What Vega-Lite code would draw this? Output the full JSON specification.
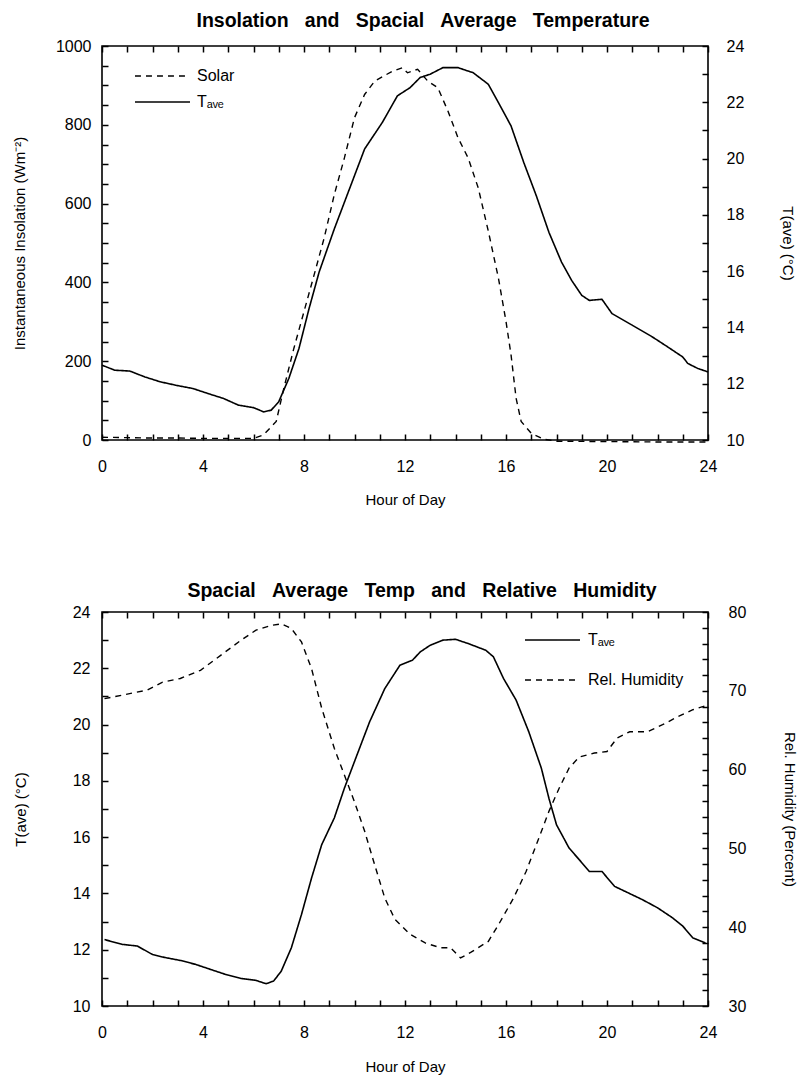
{
  "$schema": "https://vega.github.io/schema/vega-lite/v6.json",
  "background": "white",
  "padding": {"left": 11, "top": 9, "right": 2, "bottom": 1},
  "spacing": 71,
  "config": {
    "font": "Liberation Sans",
    "view": {"stroke": "black", "strokeWidth": 1.6},
    "axis": {
      "domain": false, "tickColor": "black", "tickWidth": 1.5, "ticks": true, "tickSize": 6, "offset": -6,
      "labelColor": "black", "titleColor": "black", "labelFont": "Liberation Sans", "labelFontSize": 16,
      "titleFont": "Liberation Sans", "titleFontSize": 15, "titleFontWeight": "normal", "grid": false
    },
    "title": {"font": "Liberation Sans", "fontSize": 19.5, "fontWeight": "bold", "color": "black", "offset": 7},
    "legend": {"labelFont": "Liberation Sans", "labelFontSize": 16, "labelColor": "black", "padding": 0, "rowPadding": 0, "symbolStrokeWidth": 1.4, "title": null}
  },
  "datasets": {
    "solar": [
      {"hour": 0, "value": 7, "series": "Solar"}, {"hour": 1, "value": 6, "series": "Solar"}, {"hour": 2, "value": 5, "series": "Solar"},
      {"hour": 3, "value": 5, "series": "Solar"}, {"hour": 4, "value": 4, "series": "Solar"}, {"hour": 5, "value": 4, "series": "Solar"},
      {"hour": 6, "value": 4, "series": "Solar"}, {"hour": 6.4, "value": 13, "series": "Solar"}, {"hour": 6.9, "value": 47, "series": "Solar"},
      {"hour": 7.2, "value": 131, "series": "Solar"}, {"hour": 7.6, "value": 233, "series": "Solar"}, {"hour": 8.0, "value": 326, "series": "Solar"},
      {"hour": 8.4, "value": 419, "series": "Solar"}, {"hour": 8.8, "value": 513, "series": "Solar"}, {"hour": 9.2, "value": 623, "series": "Solar"},
      {"hour": 9.6, "value": 716, "series": "Solar"}, {"hour": 10.0, "value": 818, "series": "Solar"}, {"hour": 10.4, "value": 877, "series": "Solar"},
      {"hour": 10.8, "value": 911, "series": "Solar"}, {"hour": 11.5, "value": 936, "series": "Solar"}, {"hour": 11.9, "value": 945, "series": "Solar"},
      {"hour": 12.1, "value": 932, "series": "Solar"}, {"hour": 12.5, "value": 941, "series": "Solar"}, {"hour": 12.9, "value": 911, "series": "Solar"},
      {"hour": 13.3, "value": 894, "series": "Solar"}, {"hour": 13.7, "value": 835, "series": "Solar"}, {"hour": 14.1, "value": 767, "series": "Solar"},
      {"hour": 14.5, "value": 716, "series": "Solar"}, {"hour": 14.9, "value": 640, "series": "Solar"}, {"hour": 15.3, "value": 530, "series": "Solar"},
      {"hour": 15.7, "value": 411, "series": "Solar"}, {"hour": 16.0, "value": 301, "series": "Solar"}, {"hour": 16.2, "value": 216, "series": "Solar"},
      {"hour": 16.4, "value": 106, "series": "Solar"}, {"hour": 16.6, "value": 47, "series": "Solar"}, {"hour": 17.0, "value": 17, "series": "Solar"},
      {"hour": 17.5, "value": 2, "series": "Solar"}, {"hour": 18, "value": -3, "series": "Solar"}, {"hour": 20, "value": -4, "series": "Solar"},
      {"hour": 22, "value": -5, "series": "Solar"}, {"hour": 24, "value": -5, "series": "Solar"}
    ],
    "tave1": [
      {"hour": 0, "value": 12.66, "series": "T_ave"}, {"hour": 0.5, "value": 12.48, "series": "T_ave"}, {"hour": 1.1, "value": 12.45, "series": "T_ave"},
      {"hour": 1.7, "value": 12.24, "series": "T_ave"}, {"hour": 2.3, "value": 12.07, "series": "T_ave"}, {"hour": 2.9, "value": 11.95, "series": "T_ave"},
      {"hour": 3.6, "value": 11.83, "series": "T_ave"}, {"hour": 4.2, "value": 11.65, "series": "T_ave"}, {"hour": 4.8, "value": 11.48, "series": "T_ave"},
      {"hour": 5.4, "value": 11.24, "series": "T_ave"}, {"hour": 6.0, "value": 11.15, "series": "T_ave"}, {"hour": 6.4, "value": 11.0, "series": "T_ave"},
      {"hour": 6.7, "value": 11.06, "series": "T_ave"}, {"hour": 7.0, "value": 11.36, "series": "T_ave"}, {"hour": 7.4, "value": 12.19, "series": "T_ave"},
      {"hour": 7.8, "value": 13.25, "series": "T_ave"}, {"hour": 8.2, "value": 14.67, "series": "T_ave"}, {"hour": 8.6, "value": 15.97, "series": "T_ave"},
      {"hour": 9.2, "value": 17.5, "series": "T_ave"}, {"hour": 9.8, "value": 18.92, "series": "T_ave"}, {"hour": 10.4, "value": 20.34, "series": "T_ave"},
      {"hour": 11.1, "value": 21.28, "series": "T_ave"}, {"hour": 11.7, "value": 22.23, "series": "T_ave"}, {"hour": 12.2, "value": 22.52, "series": "T_ave"},
      {"hour": 12.6, "value": 22.88, "series": "T_ave"}, {"hour": 13.0, "value": 23.0, "series": "T_ave"}, {"hour": 13.5, "value": 23.23, "series": "T_ave"},
      {"hour": 14.1, "value": 23.23, "series": "T_ave"}, {"hour": 14.7, "value": 23.05, "series": "T_ave"}, {"hour": 15.3, "value": 22.64, "series": "T_ave"},
      {"hour": 15.7, "value": 21.99, "series": "T_ave"}, {"hour": 16.2, "value": 21.16, "series": "T_ave"}, {"hour": 16.7, "value": 19.87, "series": "T_ave"},
      {"hour": 17.2, "value": 18.68, "series": "T_ave"}, {"hour": 17.7, "value": 17.38, "series": "T_ave"}, {"hour": 18.2, "value": 16.32, "series": "T_ave"},
      {"hour": 18.6, "value": 15.67, "series": "T_ave"}, {"hour": 19.0, "value": 15.14, "series": "T_ave"}, {"hour": 19.3, "value": 14.96, "series": "T_ave"},
      {"hour": 19.8, "value": 15.0, "series": "T_ave"}, {"hour": 20.2, "value": 14.49, "series": "T_ave"}, {"hour": 21.0, "value": 14.08, "series": "T_ave"},
      {"hour": 21.8, "value": 13.66, "series": "T_ave"}, {"hour": 22.4, "value": 13.31, "series": "T_ave"}, {"hour": 23.0, "value": 12.95, "series": "T_ave"},
      {"hour": 23.2, "value": 12.72, "series": "T_ave"}, {"hour": 23.6, "value": 12.54, "series": "T_ave"}, {"hour": 24, "value": 12.42, "series": "T_ave"}
    ],
    "tave2": [
      {"hour": 0.1, "value": 12.36, "series": "T_ave"}, {"hour": 0.8, "value": 12.19, "series": "T_ave"}, {"hour": 1.4, "value": 12.13, "series": "T_ave"},
      {"hour": 2.0, "value": 11.83, "series": "T_ave"}, {"hour": 2.4, "value": 11.74, "series": "T_ave"}, {"hour": 3.1, "value": 11.62, "series": "T_ave"},
      {"hour": 3.7, "value": 11.48, "series": "T_ave"}, {"hour": 4.3, "value": 11.3, "series": "T_ave"}, {"hour": 4.9, "value": 11.12, "series": "T_ave"},
      {"hour": 5.5, "value": 10.98, "series": "T_ave"}, {"hour": 6.1, "value": 10.91, "series": "T_ave"}, {"hour": 6.5, "value": 10.79, "series": "T_ave"},
      {"hour": 6.8, "value": 10.89, "series": "T_ave"}, {"hour": 7.1, "value": 11.24, "series": "T_ave"}, {"hour": 7.5, "value": 12.07, "series": "T_ave"},
      {"hour": 7.9, "value": 13.25, "series": "T_ave"}, {"hour": 8.3, "value": 14.55, "series": "T_ave"}, {"hour": 8.7, "value": 15.73, "series": "T_ave"},
      {"hour": 9.2, "value": 16.68, "series": "T_ave"}, {"hour": 9.6, "value": 17.74, "series": "T_ave"}, {"hour": 10.2, "value": 19.16, "series": "T_ave"},
      {"hour": 10.6, "value": 20.1, "series": "T_ave"}, {"hour": 11.2, "value": 21.28, "series": "T_ave"}, {"hour": 11.8, "value": 22.11, "series": "T_ave"},
      {"hour": 12.3, "value": 22.29, "series": "T_ave"}, {"hour": 12.6, "value": 22.58, "series": "T_ave"}, {"hour": 13.0, "value": 22.82, "series": "T_ave"},
      {"hour": 13.5, "value": 23.0, "series": "T_ave"}, {"hour": 14.0, "value": 23.03, "series": "T_ave"}, {"hour": 14.5, "value": 22.88, "series": "T_ave"},
      {"hour": 15.2, "value": 22.64, "series": "T_ave"}, {"hour": 15.5, "value": 22.41, "series": "T_ave"}, {"hour": 15.9, "value": 21.64, "series": "T_ave"},
      {"hour": 16.4, "value": 20.87, "series": "T_ave"}, {"hour": 16.9, "value": 19.75, "series": "T_ave"}, {"hour": 17.4, "value": 18.45, "series": "T_ave"},
      {"hour": 17.7, "value": 17.38, "series": "T_ave"}, {"hour": 18.0, "value": 16.44, "series": "T_ave"}, {"hour": 18.5, "value": 15.61, "series": "T_ave"},
      {"hour": 18.9, "value": 15.2, "series": "T_ave"}, {"hour": 19.3, "value": 14.78, "series": "T_ave"}, {"hour": 19.8, "value": 14.78, "series": "T_ave"},
      {"hour": 20.3, "value": 14.25, "series": "T_ave"}, {"hour": 20.7, "value": 14.08, "series": "T_ave"}, {"hour": 21.4, "value": 13.78, "series": "T_ave"},
      {"hour": 22.0, "value": 13.49, "series": "T_ave"}, {"hour": 22.6, "value": 13.13, "series": "T_ave"}, {"hour": 23.0, "value": 12.84, "series": "T_ave"},
      {"hour": 23.4, "value": 12.42, "series": "T_ave"}, {"hour": 23.9, "value": 12.24, "series": "T_ave"}
    ],
    "rh": [
      {"hour": 0.1, "value": 69.0, "series": "Rel. Humidity"}, {"hour": 0.8, "value": 69.45, "series": "Rel. Humidity"}, {"hour": 1.8, "value": 70.1, "series": "Rel. Humidity"},
      {"hour": 2.4, "value": 71.1, "series": "Rel. Humidity"}, {"hour": 3.1, "value": 71.56, "series": "Rel. Humidity"}, {"hour": 3.9, "value": 72.6, "series": "Rel. Humidity"},
      {"hour": 4.7, "value": 74.5, "series": "Rel. Humidity"}, {"hour": 5.5, "value": 76.4, "series": "Rel. Humidity"}, {"hour": 6.1, "value": 77.7, "series": "Rel. Humidity"},
      {"hour": 6.7, "value": 78.3, "series": "Rel. Humidity"}, {"hour": 7.1, "value": 78.5, "series": "Rel. Humidity"}, {"hour": 7.5, "value": 77.9, "series": "Rel. Humidity"},
      {"hour": 7.9, "value": 76.2, "series": "Rel. Humidity"}, {"hour": 8.3, "value": 72.8, "series": "Rel. Humidity"}, {"hour": 8.7, "value": 67.8, "series": "Rel. Humidity"},
      {"hour": 9.2, "value": 62.7, "series": "Rel. Humidity"}, {"hour": 9.6, "value": 59.3, "series": "Rel. Humidity"}, {"hour": 10.0, "value": 55.9, "series": "Rel. Humidity"},
      {"hour": 10.4, "value": 52.2, "series": "Rel. Humidity"}, {"hour": 10.8, "value": 47.9, "series": "Rel. Humidity"}, {"hour": 11.2, "value": 43.7, "series": "Rel. Humidity"},
      {"hour": 11.6, "value": 41.0, "series": "Rel. Humidity"}, {"hour": 12.2, "value": 39.1, "series": "Rel. Humidity"}, {"hour": 12.8, "value": 38.0, "series": "Rel. Humidity"},
      {"hour": 13.4, "value": 37.4, "series": "Rel. Humidity"}, {"hour": 13.8, "value": 37.4, "series": "Rel. Humidity"}, {"hour": 14.2, "value": 36.1, "series": "Rel. Humidity"},
      {"hour": 14.6, "value": 36.8, "series": "Rel. Humidity"}, {"hour": 15.3, "value": 38.2, "series": "Rel. Humidity"}, {"hour": 15.7, "value": 40.3, "series": "Rel. Humidity"},
      {"hour": 16.3, "value": 43.7, "series": "Rel. Humidity"}, {"hour": 16.8, "value": 47.1, "series": "Rel. Humidity"}, {"hour": 17.3, "value": 51.3, "series": "Rel. Humidity"},
      {"hour": 17.7, "value": 54.7, "series": "Rel. Humidity"}, {"hour": 18.1, "value": 57.6, "series": "Rel. Humidity"}, {"hour": 18.5, "value": 60.2, "series": "Rel. Humidity"},
      {"hour": 18.9, "value": 61.6, "series": "Rel. Humidity"}, {"hour": 19.5, "value": 62.1, "series": "Rel. Humidity"}, {"hour": 20.0, "value": 62.3, "series": "Rel. Humidity"},
      {"hour": 20.4, "value": 64.0, "series": "Rel. Humidity"}, {"hour": 20.9, "value": 64.8, "series": "Rel. Humidity"}, {"hour": 21.6, "value": 64.8, "series": "Rel. Humidity"},
      {"hour": 22.2, "value": 65.7, "series": "Rel. Humidity"}, {"hour": 22.8, "value": 66.7, "series": "Rel. Humidity"}, {"hour": 23.4, "value": 67.6, "series": "Rel. Humidity"},
      {"hour": 24.0, "value": 68.2, "series": "Rel. Humidity"}
    ]
  },
  "vconcat": [
    {
      "title": {"text": "Insolation \u00a0\u00a0and \u00a0\u00a0Spacial \u00a0\u00a0Average \u00a0\u00a0Temperature", "offset": 7, "dx": 18},
      "width": 606,
      "height": 394,
      "layer": [
        {
          "data": {"name": "solar"},
          "mark": {"type": "line", "color": "black", "strokeWidth": 1.4},
          "encoding": {
            "x": {
              "field": "hour", "type": "quantitative",
              "scale": {"domain": [0, 24], "nice": false},
              "axis": {
                "orient": "bottom", "title": "Hour of Day", "format": "d",
                "values": [0,1,2,3,4,5,6,7,8,9,10,11,12,13,14,15,16,17,18,19,20,21,22,23,24],
                "labelExpr": "datum.value % 4 === 0 ? datum.label : ''",
                "labelPadding": 18, "titlePadding": 18, "labelFlush": false
              }
            },
            "y": {
              "field": "value", "type": "quantitative",
              "scale": {"domain": [0, 1000], "nice": false},
              "axis": {
                "orient": "left", "title": "Instantaneous Insolation (Wm⁻²)", "format": "d",
                "values": [0,50,100,150,200,250,300,350,400,450,500,550,600,650,700,750,800,850,900,950,1000],
                "labelExpr": "datum.value % 200 === 0 ? datum.label : ''",
                "labelPadding": 11, "titlePadding": 28, "labelFlush": false
              }
            },
            "strokeDash": {
              "field": "series", "type": "nominal",
              "scale": {"domain": ["Solar", "T_ave"], "range": [[6, 5], [1, 0]]},
              "legend": {
                "orient": "none", "legendX": 46, "legendY": 15.5, "rowPadding": 3,
                "symbolType": "M-2.04,0H2.04", "symbolSize": 729, "labelOffset": 20,
                "labelExpr": "datum.label === 'T_ave' ? 'Tₐᵥₑ' : datum.label"
              }
            }
          }
        },
        {
          "data": {"name": "tave1"},
          "mark": {"type": "line", "color": "black", "strokeWidth": 1.6},
          "encoding": {
            "x": {
              "field": "hour", "type": "quantitative",
              "scale": {"domain": [0, 24], "nice": false},
              "axis": {
                "orient": "top", "title": null, "labels": false,
                "values": [0,1,2,3,4,5,6,7,8,9,10,11,12,13,14,15,16,17,18,19,20,21,22,23,24]
              }
            },
            "y": {
              "field": "value", "type": "quantitative",
              "scale": {"domain": [10, 24], "nice": false},
              "axis": {
                "orient": "right", "title": "T(ave) (°C)", "format": "d",
                "values": [10,10.5,11,11.5,12,12.5,13,13.5,14,14.5,15,15.5,16,16.5,17,17.5,18,18.5,19,19.5,20,20.5,21,21.5,22,22.5,23,23.5,24],
                "labelExpr": "datum.value % 2 === 0 ? datum.label : ''",
                "labelPadding": 18, "titlePadding": 36, "labelFlush": false
              }
            },
            "strokeDash": {"field": "series", "type": "nominal"}
          }
        }
      ],
      "resolve": {"scale": {"y": "independent"}, "axis": {"x": "independent", "y": "independent"}}
    },
    {
      "title": {"text": "Spacial \u00a0\u00a0Average \u00a0\u00a0Temp \u00a0\u00a0and \u00a0\u00a0Relative \u00a0\u00a0Humidity", "offset": 3, "dx": 17},
      "width": 606,
      "height": 394,
      "layer": [
        {
          "data": {"name": "tave2"},
          "mark": {"type": "line", "color": "black", "strokeWidth": 1.6},
          "encoding": {
            "x": {
              "field": "hour", "type": "quantitative",
              "scale": {"domain": [0, 24], "nice": false},
              "axis": {
                "orient": "bottom", "title": "Hour of Day", "format": "d",
                "values": [0,1,2,3,4,5,6,7,8,9,10,11,12,13,14,15,16,17,18,19,20,21,22,23,24],
                "labelExpr": "datum.value % 4 === 0 ? datum.label : ''",
                "labelPadding": 18, "titlePadding": 19, "labelFlush": false
              }
            },
            "y": {
              "field": "value", "type": "quantitative",
              "scale": {"domain": [10, 24], "nice": false},
              "axis": {
                "orient": "left", "title": "T(ave)  (°C)", "format": "d",
                "values": [10,10.5,11,11.5,12,12.5,13,13.5,14,14.5,15,15.5,16,16.5,17,17.5,18,18.5,19,19.5,20,20.5,21,21.5,22,22.5,23,23.5,24],
                "labelExpr": "datum.value % 2 === 0 ? datum.label : ''",
                "labelPadding": 12, "titlePadding": 44, "labelFlush": false
              }
            },
            "strokeDash": {
              "field": "series", "type": "nominal",
              "scale": {"domain": ["T_ave", "Rel. Humidity"], "range": [[1, 0], [6, 5]]},
              "legend": {
                "orient": "none", "legendX": 429.5, "legendY": 7, "rowPadding": 11,
                "symbolType": "M-1.375,0H1.375", "symbolSize": 1600, "labelOffset": 14.5,
                "labelExpr": "datum.label === 'T_ave' ? 'Tₐᵥₑ' : datum.label"
              }
            }
          }
        },
        {
          "data": {"name": "rh"},
          "mark": {"type": "line", "color": "black", "strokeWidth": 1.4},
          "encoding": {
            "x": {
              "field": "hour", "type": "quantitative",
              "scale": {"domain": [0, 24], "nice": false},
              "axis": {
                "orient": "top", "title": null, "labels": false,
                "values": [0,1,2,3,4,5,6,7,8,9,10,11,12,13,14,15,16,17,18,19,20,21,22,23,24]
              }
            },
            "y": {
              "field": "value", "type": "quantitative",
              "scale": {"domain": [30, 80], "nice": false},
              "axis": {
                "orient": "right", "title": "Rel. Humidity (Percent)", "format": "d",
                "values": [30,32,34,36,38,40,42,44,46,48,50,52,54,56,58,60,62,64,66,68,70,72,74,76,78,80],
                "labelExpr": "datum.value % 10 === 0 ? datum.label : ''",
                "labelPadding": 20, "titlePadding": 36, "labelFlush": false
              }
            },
            "strokeDash": {"field": "series", "type": "nominal"}
          }
        }
      ],
      "resolve": {"scale": {"y": "independent"}, "axis": {"x": "independent", "y": "independent"}}
    }
  ],
  "resolve": {"scale": {"strokeDash": "independent"}, "legend": {"strokeDash": "independent"}}
}
